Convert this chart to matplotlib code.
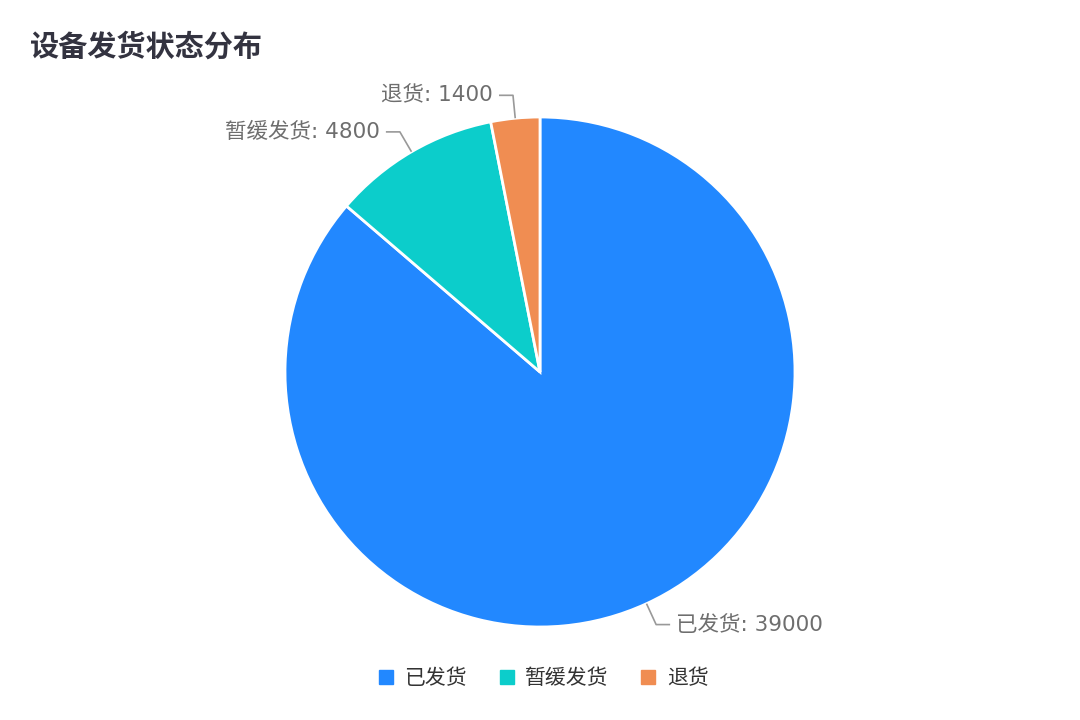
import numpy as np
import matplotlib
matplotlib.use("Agg")
import matplotlib.pyplot as plt
from matplotlib.lines import Line2D

plt.rcParams['font.family'] = ['DejaVu Sans', 'Noto Sans CJK SC']

title = "设备发货状态分布"
categories = ["已发货", "暂缓发货", "退货"]
values = [39000, 4800, 1400]
colors = ["#2288FF", "#0CCDCB", "#F08D52"]

W, H = 1080, 720
fig = plt.figure(figsize=(W / 100, H / 100), dpi=100)
ax = fig.add_axes([0, 0, 1, 1])

cx, cy, r = 540, H - 372, 255
wedges, _ = ax.pie(values, colors=colors, startangle=90, counterclock=False,
                   center=(cx, cy), radius=r, frame=True,
                   wedgeprops=dict(edgecolor="white", linewidth=2))
ax.set_xlim(0, W)
ax.set_ylim(0, H)
ax.axis("off")

# leader lines + labels
for w, name, val in zip(wedges, categories, values):
    mid = np.deg2rad((w.theta1 + w.theta2) / 2)
    x0, y0 = cx + r * np.cos(mid), cy + r * np.sin(mid)
    x1, y1 = cx + (r + 23) * np.cos(mid), cy + (r + 23) * np.sin(mid)
    side = 1 if np.cos(mid) >= 0 else -1
    x2 = x1 + side * 14
    ax.plot([x0, x1, x2], [y0, y1, y1], color="#999999", lw=1.2,
            solid_capstyle="butt")
    ax.text(x2 + side * 6, y1, f"{name}: {val}", fontsize=15.5, color="#6e6e6e",
            ha="left" if side > 0 else "right", va="center")

fig.text(30 / W, 1 - 47 / H, title, fontsize=21, fontweight="bold",
         family=['Noto Sans CJK SC', 'DejaVu Sans'],
         color="#333340", ha="left", va="center")

handles = [Line2D([0], [0], marker="s", linestyle="", markersize=10,
                  markerfacecolor=c, markeredgecolor=c) for c in colors]
fig.legend(handles, categories, loc="center", bbox_to_anchor=(0.5, 1 - 678 / H),
           ncol=3, frameon=False, fontsize=15, handletextpad=0.2,
           handlelength=1.4, columnspacing=1.2, labelcolor="#333333")

fig.savefig("out.png", dpi=100, facecolor="white")
